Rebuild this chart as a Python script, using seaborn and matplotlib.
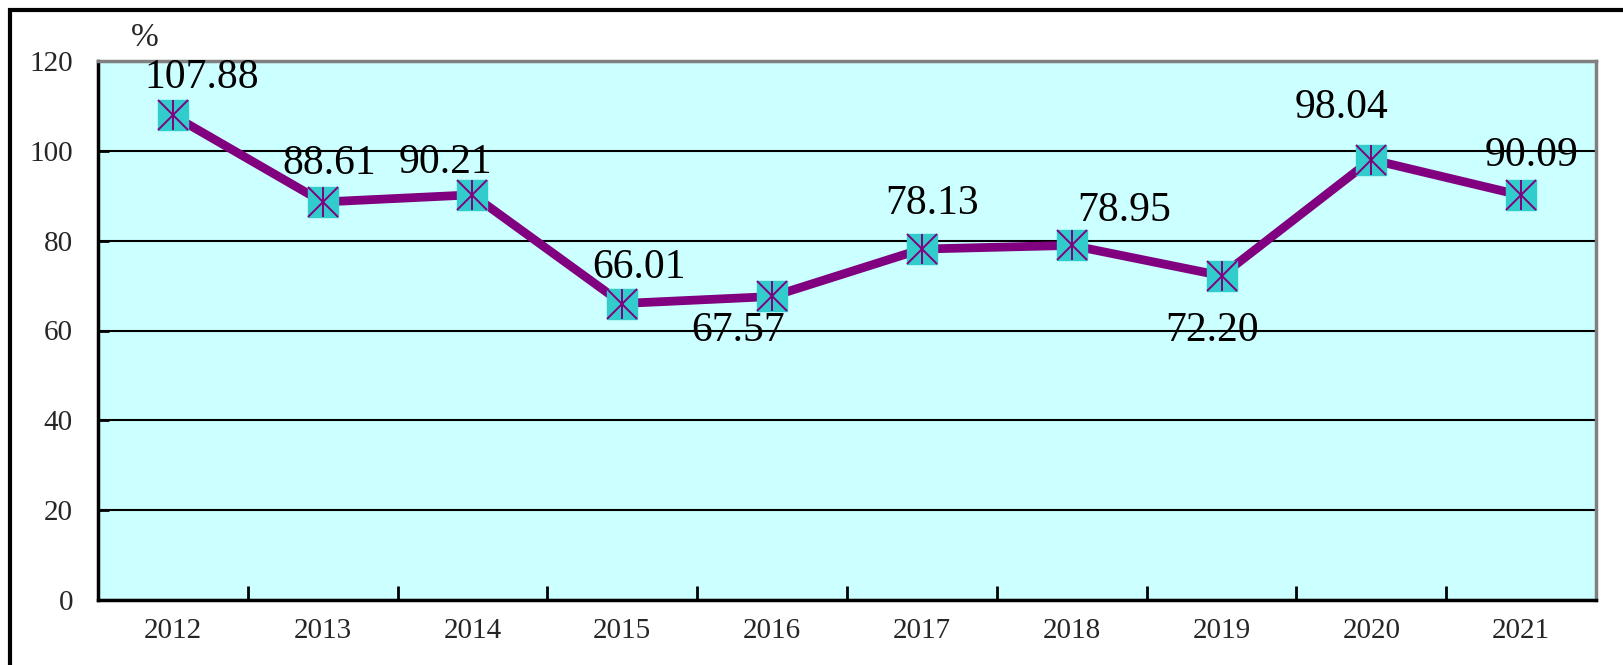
import numpy as np
import pandas as pd
import seaborn as sns
import matplotlib
matplotlib.use("Agg")
import matplotlib.pyplot as plt
from matplotlib.patches import Rectangle

years = ["2012", "2013", "2014", "2015", "2016", "2017", "2018", "2019", "2020", "2021"]
values = [107.88, 88.61, 90.21, 66.01, 67.57, 78.13, 78.95, 72.20, 98.04, 90.09]
y_ticks = [0, 20, 40, 60, 80, 100, 120]
unit_label = "%"

# label offsets in pixels (dx, dy) relative to each point (dy positive = up)
label_offsets = [(29, 38), (6, 38), (-27, 32), (17, 36), (-34, -34),
                 (10, 45), (52, 35), (-9, -55), (-30, 52), (10, 40)]

sns.set_theme(style="white")
plt.rcParams["font.family"] = ["Liberation Serif", "DejaVu Serif"]

W, H = 1624, 665
fig = plt.figure(figsize=(W / 100, H / 100), dpi=100)
ax = fig.add_axes([98 / W, 1 - 600 / H, (1596 - 98) / W, (600 - 61) / H])

df = pd.DataFrame({"pos": np.arange(len(years)), "value": values})
ax.set_facecolor("#CCFFFF")

sns.lineplot(data=df, x="pos", y="value", ax=ax, color="#800080",
             linewidth=6.3, zorder=3, legend=False)
ax.plot(df["pos"], df["value"], linestyle="none", marker="s", markersize=21,
        markerfacecolor="#33CCCC", markeredgecolor="#33CCCC", zorder=4)
ax.plot(df["pos"], df["value"], linestyle="none", marker="x", markersize=21,
        markeredgecolor="#800080", markeredgewidth=1.4, zorder=5)
ax.plot(df["pos"], df["value"], linestyle="none", marker="|", markersize=21,
        markeredgecolor="#800080", markeredgewidth=1.4, zorder=5)

px2pt = 72 / 100
for i, v in enumerate(values):
    dx, dy = label_offsets[i]
    ax.annotate(f"{v:.2f}", (i, v), xytext=(dx * px2pt, dy * px2pt),
                textcoords="offset points", ha="center", va="center",
                fontsize=30, color="black", zorder=6)

ax.set_xlim(-0.5, len(years) - 0.5)
ax.set_ylim(0, 120)
ax.set_yticks(y_ticks)
ax.set_yticklabels([str(t) for t in y_ticks], fontsize=21)
ax.set_xticks(np.arange(len(years)))
ax.set_xticklabels(years, fontsize=21)
ax.set_xticks(np.arange(len(years) + 1) - 0.5, minor=True)
ax.tick_params(axis="x", which="major", length=0, pad=13)
ax.tick_params(axis="x", which="minor", direction="in", length=10, width=2, color="black", bottom=True)
ax.tick_params(axis="y", which="major", direction="in", length=8, width=2, color="black", left=True, pad=18)
ax.set_xlabel("")
ax.set_ylabel("")

ax.yaxis.grid(True, color="black", linewidth=1.5)
ax.xaxis.grid(False)
ax.set_axisbelow(True)

for side in ["left", "bottom"]:
    ax.spines[side].set_color("black")
    ax.spines[side].set_linewidth(2.5)
for side in ["top", "right"]:
    ax.spines[side].set_color("#808080")
    ax.spines[side].set_linewidth(2.5)
    ax.spines[side].set_visible(True)

fig.text(145 / W, 1 - 38 / H, unit_label, fontsize=24, ha="center", va="center")

fig.patches.append(Rectangle((10 / W, -0.2), 1.5, 1.2 - 10 / H, transform=fig.transFigure,
                             fill=False, edgecolor="black", linewidth=3))

fig.savefig("out.png", dpi=100)
